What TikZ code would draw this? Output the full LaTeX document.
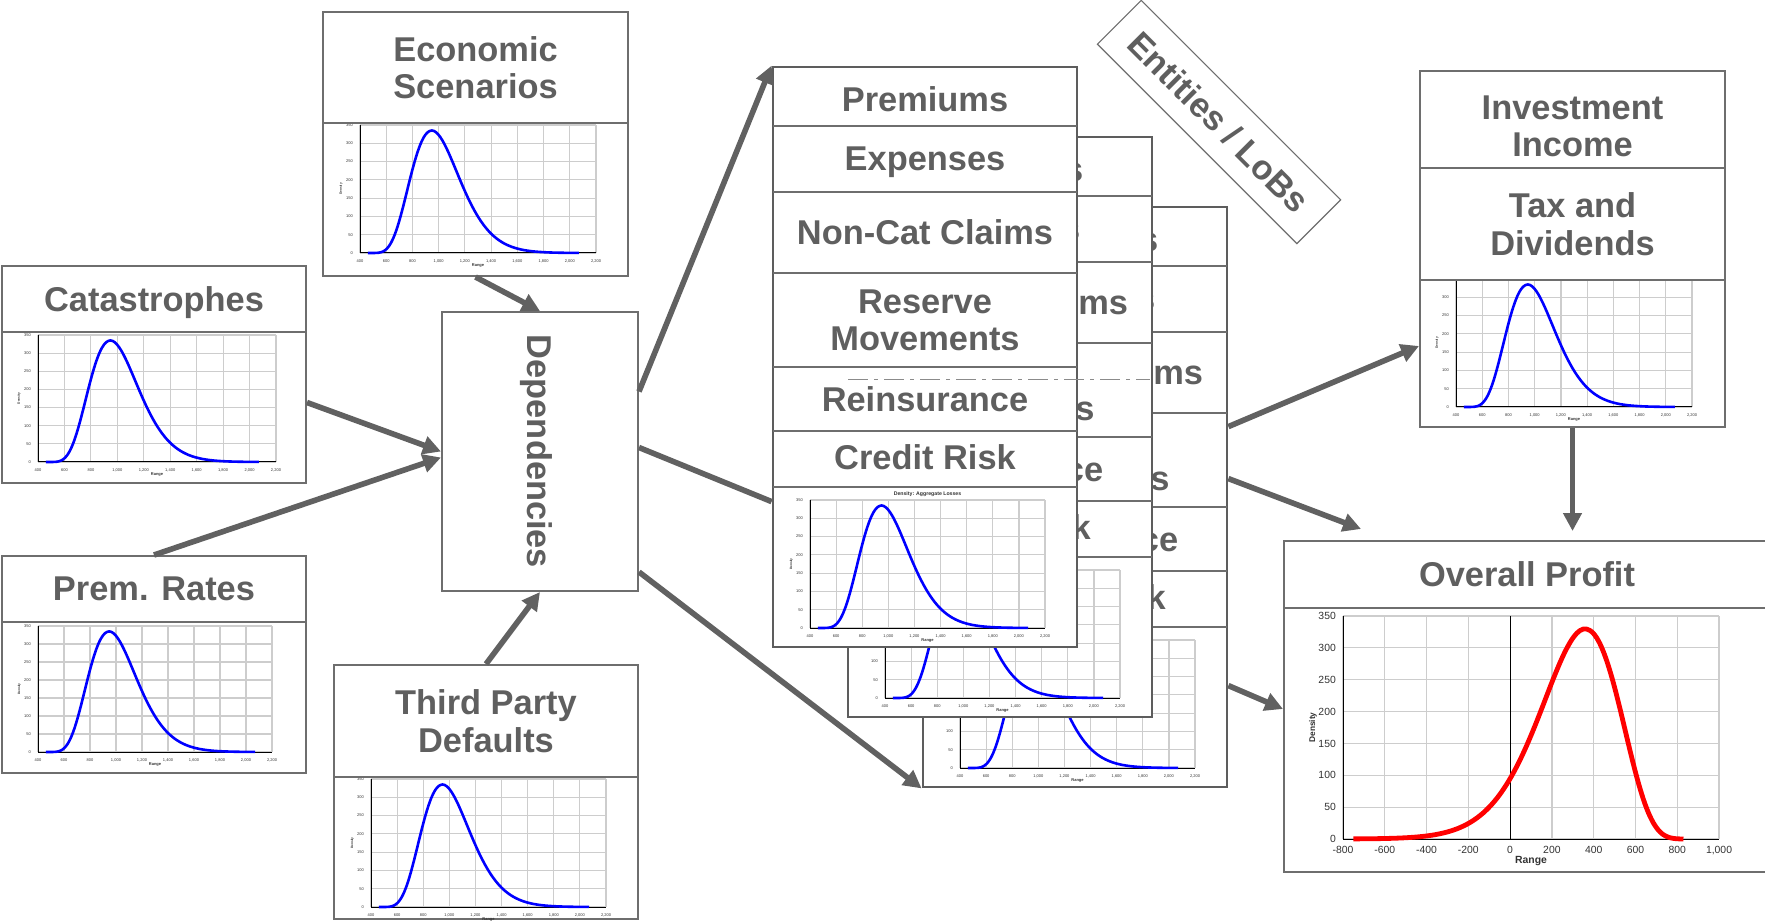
\documentclass[tikz,border=0pt]{standalone}
\usepackage{fontspec}
\setmainfont{Liberation Sans}
\usetikzlibrary{arrows.meta,calc}
\definecolor{boxgray}{HTML}{6E6E6E}
\definecolor{textgray}{HTML}{5F5F5F}
\definecolor{arrowgray}{HTML}{616161}
\definecolor{gridgray}{HTML}{CDCDCD}
\definecolor{curveblue}{HTML}{0000FF}
\definecolor{curvered}{HTML}{FF0000}

\newcommand{\titlefont}{\fontsize{17.2}{18.6}\selectfont\bfseries}
\newcommand{\losslabels}{400,600,800,{1,000},{1,200},{1,400},{1,600},{1,800},{2,000},{2,200}}
\newcommand{\profitlabels}{-800,-600,-400,-200,0,200,400,600,800,{1,000}}

% Density chart in a pixel box: prefix, left, bottom, width, height, tick size, x labels, curve
\newcommand{\densitychart}[8]{%
  \pgfmathsetmacro\chartdx{#4/18}%
  \pgfmathsetmacro\chartdy{#5/14}%
  \pgfmathsetmacro\denssize{0.8*#6}%
  \begin{scope}[shift={(#2,#3)}, x=\chartdx pt, y=\chartdy pt,
      every node/.style={font=\fontsize{#6}{#6}\selectfont, text=black!80, inner sep=0.4pt}]
    \draw[gridgray, line width=0.6pt] (0,0) grid[step=1] (9,7);
    \draw[black, line width=0.5pt] (0,7) -- (0,0) -- (9,0);
    \foreach \lab [count=\i from 0] in #7
      \node[below=0.3em] (#1-x\i) at (\i,0) {\lab};
    \foreach \i in {0,...,7} {
      \pgfmathtruncatemacro\tickval{50*\i}
      \node[left=0.3em] (#1-y\i) at (0,\i) {\tickval};
    }
    \node[font=\fontsize{#6}{#6}\selectfont\bfseries] (#1-range) at (4.5,-0.68) {Range};
    \node[font=\fontsize{\denssize}{#6}\selectfont\bfseries, rotate=90] (#1-dens) at (-0.72,3.5) {Density};
    #8
  \end{scope}}

\newcommand{\losscurve}{%
  \draw[curveblue, line width=1.3pt, line join=round]
    plot[domain=0.3:8.35, samples=100, smooth]
    (\x,{6.7*exp(7*(ln((200*\x-50)/497)+1-(200*\x-50)/497))});}
\newcommand{\profitcurve}{%
  \draw[black, line width=0.6pt] (4,0) -- (4,7);
  \draw[curvered, line width=2.4pt, line join=round]
    plot[domain=0.25:8.15, samples=100, smooth]
    (\x,{6.6*exp(8*(ln((1700-200*\x)/540)+1-(1700-200*\x)/540))});}

% One entity / LoB card: name, left, top (pixels)
\newcommand{\lobcard}[3]{%
  \node[cardframe, minimum width=152pt, minimum height=290pt] (#1) at (#2+152,#3+290) {};
  \foreach \rowy in {59,125,206,300,364,420}
    \draw[rowline] (#2,#3+\rowy) -- (#2+304,#3+\rowy);
  \foreach \rowname/\rowy/\rowtext in {prem/32/Premiums,exp/92/Expenses,
      noncat/165.5/Non-Cat Claims,reserve/253/{Reserve\\Movements},
      reins/332/Reinsurance,credit/390/Credit Risk}
    \node[rowlabel] (#1-\rowname) at (#2+152,#3+\rowy) {\rowtext};
  \node[charttitle] (#1-title) at (#2+154.5,#3+427) {Density: Aggregate Losses};
  \densitychart{#1}{#2+37}{#3+561}{235}{128}{2}{\losslabels}{\losscurve}}

\begin{document}
\begin{tikzpicture}[x=0.5pt, y=-0.5pt,
    panelframe/.style={draw=boxgray, line width=1pt, fill=white, inner sep=0pt},
    titlecell/.style={draw=boxgray, line width=1pt, fill=white, inner sep=0pt,
      text=textgray, font=\titlefont, align=center, text depth=0pt},
    cardframe/.style={draw=boxgray!85!black, line width=1.4pt, fill=white, inner sep=0pt},
    rowline/.style={boxgray, line width=1pt},
    rowlabel/.style={text=textgray, font=\titlefont, align=center, inner sep=0pt, text depth=0pt},
    charttitle/.style={font=\fontsize{2.6}{2.6}\selectfont\bfseries, text=black!80, inner sep=0pt},
    lobsbox/.style={draw=boxgray, line width=0.6pt, fill=white, text=textgray,
      font=\titlefont, inner sep=0pt, text depth=0pt},
    flow/.style={draw=arrowgray, line width=2.8pt, -{Triangle[length=9pt,width=9pt]}},
    flowline/.style={draw=arrowgray, line width=2.8pt},
    ghostline/.style={draw=boxgray!80, line width=0.4pt, dash pattern=on 10pt off 3pt on 2pt off 3pt}]
  \useasboundingbox (0,0) rectangle (1765,924);

  % Risk sources
  \node[panelframe, minimum width=152.5pt, minimum height=132pt] (econ) at (475.5,144) {};
  \densitychart{econ}{360}{253}{236}{128}{2}{\losslabels}{\losscurve}
  \node[titlecell, minimum width=152.5pt, minimum height=55.5pt] (econ-title) at (475.5,67.5) {Economic\\Scenarios};

  \node[panelframe, minimum width=152pt, minimum height=108.5pt] (cat) at (154,374.5) {};
  \densitychart{cat}{38}{462}{238}{127}{2}{\losslabels}{\losscurve}
  \node[titlecell, minimum width=152pt, minimum height=33pt] (cat-title) at (154,299) {Catastrophes};

  \node[panelframe, minimum width=152pt, minimum height=108.5pt] (prem) at (154,664.5) {};
  \densitychart{prem}{38}{752}{234}{126}{2}{\losslabels}{\losscurve}
  \node[titlecell, minimum width=152pt, minimum height=33pt] (prem-title) at (154,589) {Prem. Rates};

  \node[panelframe, minimum width=152pt, minimum height=127pt] (tpd) at (486,792) {};
  \densitychart{tpd}{371}{907}{235}{128}{2}{\losslabels}{\losscurve}
  \node[titlecell, minimum width=152pt, minimum height=56pt] (tpd-title) at (486,721) {Third Party\\Defaults};

  \node[panelframe, minimum width=98pt, minimum height=139.5pt] (dep) at (540,451.5) {};
  \node[rowlabel, rotate=-90] (dep-label) at (dep.center) {Dependencies};

  % Stack of entities / lines of business, back to front
  \lobcard{card3}{923}{207}
  \lobcard{card2}{848}{137}
  \lobcard{card1}{773}{67}
  \draw[ghostline] (848,379) -- (1150,379);

  \node[lobsbox, rotate=-45, minimum width=141pt, minimum height=31pt] (lobs) at (1219,122) {Entities / LoBs};

  % Results
  \node[panelframe, minimum width=152.5pt, minimum height=178pt] (inv) at (1572.5,249) {};
  \densitychart{inv}{1456}{407}{236}{128}{2}{\losslabels}{\losscurve}
  \node[titlecell, minimum width=152.5pt, minimum height=48.5pt] (inv-income) at (1572.5,119.5) {};
  \node[rowlabel] (inv-income-label) at (1572.5,126) {Investment\\Income};
  \node[titlecell, minimum width=152.5pt, minimum height=56pt] (inv-tax) at (1572.5,224) {Tax and\\Dividends};

  \node[panelframe, minimum width=243pt, minimum height=165.5pt] (profit) at (1527,706.5) {};
  \densitychart{profit}{1343}{839}{376}{223}{5.2}{\profitlabels}{\profitcurve}
  \node[titlecell, minimum width=243pt, minimum height=33.5pt] (profit-title) at (1527,574.5) {Overall Profit};

  % Connectors
  \draw[flow] (econ.south) -- (dep.north);
  \draw[flow] ([yshift=-14pt]cat.east) -- (dep.west);
  \draw[flow] (prem.north) -- ([yshift=-3pt]dep.west);
  \draw[flow] (tpd.north) -- (dep.south);
  \draw[flow] ([yshift=30pt]dep.east) -- (card1.north west);
  \draw[flowline] ([yshift=2pt]dep.east) -- ($(card1.north west)+(0,436)$);
  \draw[flow] ([yshift=10pt]dep.south east) -- (card3.south west);
  \draw[flow] ($(card3.north east)+(0,221)$) -- ($(inv.north west)+(0,276)$);
  \draw[flow] ($(card3.north east)+(0,273)$) -- ($(profit.north west)+(78,-11)$);
  \draw[flow, shorten >=4.5pt] (inv.south) -- (inv.south |- profit.north);
  \draw[flow] ($(card3.north east)+(0,480)$) -- ($(profit.north west)+(0,169)$);
\end{tikzpicture}
\end{document}
